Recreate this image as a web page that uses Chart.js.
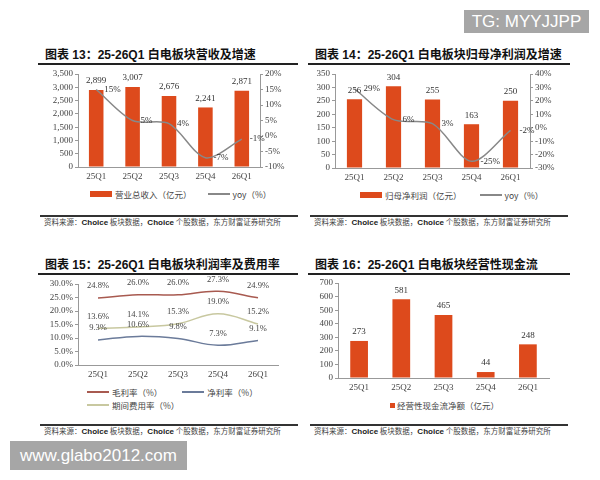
<!DOCTYPE html>
<html>
<head>
<meta charset="utf-8">
<script src="https://cdn.jsdelivr.net/npm/chart.js@4.4.0/dist/chart.umd.min.js"></script>
<style>
  body { margin: 0; background: #fff; width: 600px; height: 480px; position: relative; overflow: hidden; font-family: "Noto Sans CJK SC", sans-serif; }
  .abs { position: absolute; }
  .title { font: bold 12px "Liberation Sans", "Noto Sans CJK SC", sans-serif; color: #111; white-space: nowrap; line-height: 14px; }
  .rule { height: 2px; background: #222; }
  .srcrule { height: 1.5px; background: #333; }
  .src { font: 7.5px "Noto Sans CJK SC", sans-serif; color: #444; white-space: nowrap; line-height: 10px; }
  .src b { font: bold 8px "Liberation Sans", sans-serif; color: #222; }
  .leg { font: 8.5px "Noto Sans CJK SC", sans-serif; color: #444; white-space: nowrap; line-height: 12px; display: flex; align-items: center; }
  .sw-bar { display: inline-block; width: 22px; height: 6px; background: #dd4a1c; margin-right: 3px; }
  .sw-sq { display: inline-block; width: 5px; height: 5px; background: #dd4a1c; margin-right: 2px; }
  .sw-line { display: inline-block; width: 22px; height: 1.5px; margin-right: 3px; }
  .wm { background: #a6a6a6; color: #fff; font-family: "Liberation Sans", Arial, sans-serif; text-align: center; }
  canvas { position: absolute; }
</style>
</head>
<body>

<div class="abs title" style="left:45px; top:48px;">图表 13：25-26Q1 白电板块营收及增速</div>
<div class="abs rule" style="left:38px; top:63px; width:260px;"></div>
<div class="abs title" style="left:315px; top:48px;">图表 14：25-26Q1 白电板块归母净利润及增速</div>
<div class="abs rule" style="left:308px; top:63px; width:262px;"></div>
<div class="abs title" style="left:45px; top:258px;">图表 15：25-26Q1 白电板块利润率及费用率</div>
<div class="abs rule" style="left:38px; top:273px; width:260px;"></div>
<div class="abs title" style="left:315px; top:258px;">图表 16：25-26Q1 白电板块经营性现金流</div>
<div class="abs rule" style="left:308px; top:273px; width:262px;"></div>

<canvas id="revenueChart" style="left:38px; top:64px;" width="257" height="120"></canvas>
<canvas id="profitChart" style="left:305px; top:64px;" width="265" height="121"></canvas>
<canvas id="marginChart" style="left:38px; top:274px;" width="257" height="108"></canvas>
<canvas id="cashChart" style="left:305px; top:274px;" width="265" height="121"></canvas>

<div class="abs leg" style="left:90px; top:188px;"><span class="sw-bar"></span>营业总收入（亿元）<span class="sw-line" style="background:#888; margin-left:16px;"></span>yoy（%）</div>
<div class="abs leg" style="left:360px; top:189px;"><span class="sw-bar"></span>归母净利润（亿元）<span class="sw-line" style="background:#888; margin-left:18px;"></span>yoy（%）</div>
<div class="abs leg" style="left:87px; top:386px;"><span class="sw-line" style="background:#a85a50;"></span>毛利率（%）<span class="sw-line" style="background:#6b7b9a; margin-left:20px;"></span>净利率（%）</div>
<div class="abs leg" style="left:87px; top:399px;"><span class="sw-line" style="background:#c8c8a0;"></span>期间费用率（%）</div>
<div class="abs leg" style="left:390px; top:399px;"><span class="sw-sq"></span>经营性现金流净额（亿元）</div>

<div class="abs srcrule" style="left:40px; top:215px; width:258px;"></div>
<div class="abs srcrule" style="left:310px; top:215px; width:258px;"></div>
<div class="abs srcrule" style="left:40px; top:424px; width:258px;"></div>
<div class="abs srcrule" style="left:310px; top:424px; width:258px;"></div>
<div class="abs src" style="left:44px; top:217px;">资料来源：<b>Choice</b> 板块数据，<b>Choice</b> 个股数据，东方财富证券研究所</div>
<div class="abs src" style="left:314px; top:217px;">资料来源：<b>Choice</b> 板块数据，<b>Choice</b> 个股数据，东方财富证券研究所</div>
<div class="abs src" style="left:44px; top:426px;">资料来源：<b>Choice</b> 板块数据，<b>Choice</b> 个股数据，东方财富证券研究所</div>
<div class="abs src" style="left:314px; top:426px;">资料来源：<b>Choice</b> 板块数据，<b>Choice</b> 个股数据，东方财富证券研究所</div>

<div class="abs wm" style="left:464px; top:10px; width:125px; height:23px; line-height:23px; font-size:17px;">TG: MYYJJPP</div>
<div class="abs wm" style="left:10px; top:441px; width:177px; height:29px; line-height:29px; font-size:17px;">www.glabo2012.com</div>

<script>
const quarters = ["25Q1", "25Q2", "25Q3", "25Q4", "26Q1"];

// 营收（亿元）及同比
const revenue = [2899, 3007, 2676, 2241, 2871];
const revenueYoy = [15, 5, 4, -7, -1];

// 归母净利润（亿元）及同比
const netProfit = [256, 304, 255, 163, 250];
const netProfitYoy = [29, 6, 3, -25, -2];

// 利润率及费用率（%）
const grossMargin = [24.8, 26.0, 26.0, 27.3, 24.9];
const netMargin = [9.3, 10.6, 9.8, 7.3, 9.1];
const expenseRatio = [13.6, 14.1, 15.3, 19.0, 15.2];

// 经营性现金流净额（亿元）
const operatingCashFlow = [273, 581, 465, 44, 248];

const barColor = "#dd4a1c";
const serif = "'Liberation Serif', 'DejaVu Serif', serif";
const tickFont = { family: serif, size: 9 };
const tickColor = "#444";

// rótulos de valor em cima de cada ponto/barra
const pointLabels = {
  id: "pointLabels",
  afterDatasetsDraw(chart) {
    const ctx = chart.ctx;
    chart.data.datasets.forEach((ds, i) => {
      const lab = ds.pointLabel;
      if (!lab) return;
      const meta = chart.getDatasetMeta(i);
      ctx.save();
      ctx.font = (lab.size || 9) + "px " + serif;
      ctx.fillStyle = lab.color || "#333";
      ctx.textAlign = lab.align || "center";
      ctx.textBaseline = "middle";
      meta.data.forEach((el, j) => {
        ctx.fillText(lab.format(ds.data[j]), el.x + (lab.dx || 0), el.y + (lab.dy || 0));
      });
      ctx.restore();
    });
  },
};

function xAxis(height) {
  return {
    grid: { display: false, drawTicks: false },
    border: { display: true, color: "#999" },
    ticks: { font: tickFont, color: tickColor, padding: 4 },
    afterFit: (axis) => { axis.height = height; },
  };
}

function valueAxis(width, min, max, step, fmt, position) {
  return {
    position: position,
    min: min,
    max: max,
    grid: { drawOnChartArea: false, drawTicks: true, tickLength: 3, color: "#999" },
    border: { display: true, color: "#999" },
    ticks: { stepSize: step, autoSkip: false, font: tickFont, color: tickColor, padding: 2, callback: fmt },
    afterFit: (axis) => { axis.width = width; },
  };
}

const baseOptions = (padding) => ({
  responsive: false,
  animation: false,
  layout: { padding: padding },
  plugins: { legend: { display: false }, tooltip: { enabled: false } },
});

// 图表 13
new Chart(document.getElementById("revenueChart"), {
  type: "bar",
  data: {
    labels: quarters,
    datasets: [
      {
        type: "line",
        label: "yoy（%）",
        data: revenueYoy,
        yAxisID: "y1",
        borderColor: "#888",
        borderWidth: 1.5,
        pointRadius: 0,
        tension: 0.3,
        order: 0,
        pointLabel: { format: (v) => v + "%", align: "left", dx: 8 },
      },
      {
        label: "营业总收入（亿元）",
        data: revenue,
        yAxisID: "y",
        backgroundColor: barColor,
        barPercentage: 0.4,
        categoryPercentage: 1,
        order: 1,
        pointLabel: { format: (v) => v.toLocaleString("en-US"), dy: -9 },
      },
    ],
  },
  options: {
    ...baseOptions({ top: 10 }),
    scales: {
      x: xAxis(17),
      y: valueAxis(40, 0, 3500, 500, (v) => v.toLocaleString("en-US"), "left"),
      y1: valueAxis(35, -10, 20, 5, (v) => v + "%", "right"),
    },
  },
  plugins: [pointLabels],
});

// 图表 14
new Chart(document.getElementById("profitChart"), {
  type: "bar",
  data: {
    labels: quarters,
    datasets: [
      {
        type: "line",
        label: "yoy（%）",
        data: netProfitYoy,
        yAxisID: "y1",
        borderColor: "#888",
        borderWidth: 1.5,
        pointRadius: 0,
        tension: 0.3,
        order: 0,
        pointLabel: { format: (v) => v + "%", align: "left", dx: 9 },
      },
      {
        label: "归母净利润（亿元）",
        data: netProfit,
        yAxisID: "y",
        backgroundColor: barColor,
        barPercentage: 0.39,
        categoryPercentage: 1,
        order: 1,
        pointLabel: { format: (v) => String(v), dy: -9 },
      },
    ],
  },
  options: {
    ...baseOptions({ top: 10 }),
    scales: {
      x: xAxis(17),
      y: valueAxis(30, 0, 350, 50, (v) => String(v), "left"),
      y1: valueAxis(40, -30, 40, 10, (v) => v + "%", "right"),
    },
  },
  plugins: [pointLabels],
});

// 图表 15
const marginLine = (label, data, color) => ({
  label: label,
  data: data,
  borderColor: color,
  borderWidth: 1.5,
  pointRadius: 0,
  tension: 0.4,
  pointLabel: { format: (v) => v.toFixed(1) + "%", dy: -12, size: 8.5, color: "#444" },
});

new Chart(document.getElementById("marginChart"), {
  type: "line",
  data: {
    labels: quarters,
    datasets: [
      marginLine("毛利率（%）", grossMargin, "#a85a50"),
      marginLine("净利率（%）", netMargin, "#6b7b9a"),
      marginLine("期间费用率（%）", expenseRatio, "#c8c8a0"),
    ],
  },
  options: {
    ...baseOptions({ top: 10, right: 17 }),
    scales: {
      x: { ...xAxis(17), offset: true },
      y: valueAxis(40, 0, 30, 5, (v) => v.toFixed(1) + "%", "left"),
    },
  },
  plugins: [pointLabels],
});

// 图表 16
new Chart(document.getElementById("cashChart"), {
  type: "bar",
  data: {
    labels: quarters,
    datasets: [
      {
        label: "经营性现金流净额（亿元）",
        data: operatingCashFlow,
        backgroundColor: barColor,
        barPercentage: 0.42,
        categoryPercentage: 1,
        pointLabel: { format: (v) => String(v), dy: -9 },
      },
    ],
  },
  options: {
    ...baseOptions({ top: 9, right: 21 }),
    scales: {
      x: xAxis(17),
      y: valueAxis(33, 0, 700, 100, (v) => String(v), "left"),
    },
  },
  plugins: [pointLabels],
});
</script>
</body>
</html>
